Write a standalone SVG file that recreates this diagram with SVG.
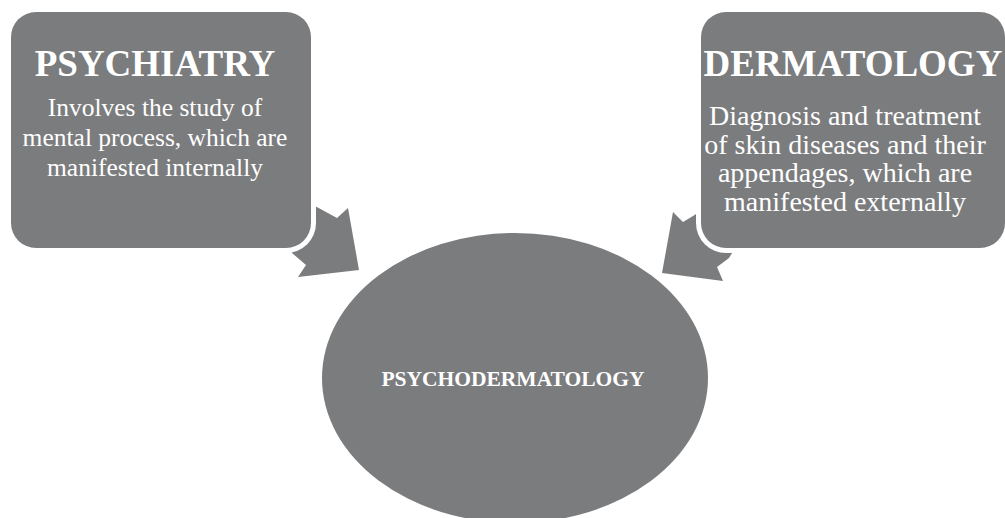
<svg xmlns="http://www.w3.org/2000/svg" width="1005" height="518" viewBox="0 0 1005 518">
<style>
.shape{fill:#7b7c7e}
.halo{fill:#ffffff}
.title{font-family:"Liberation Serif","Times New Roman",serif;font-weight:bold;font-size:37px;fill:#ffffff;text-anchor:middle}
.body{font-family:"Liberation Serif","Times New Roman",serif;fill:#ffffff;text-anchor:middle}
.center{font-family:"Liberation Serif","Times New Roman",serif;font-weight:bold;font-size:21.5px;fill:#ffffff;text-anchor:middle}
</style>
<rect width="1005" height="518" fill="#ffffff"/>
<g id="connectors">
<polygon class="shape" points="315,206 337,218 348,208 359,270 298,277 306,265 292,253 280,235 300,206"/>
<polygon class="shape" points="673,212 683,222 693,216 710,205 740,240 729,258 717,267 723,281 662,273"/>
</g>
<g id="node-psychiatry">
<rect class="halo" x="6" y="7" width="310" height="246" rx="30"/>
<rect class="shape" x="11" y="12" width="300" height="236" rx="25"/>
<text class="title" x="155" y="76">PSYCHIATRY</text>
<text class="body" font-size="25.5"><tspan x="155" y="116">Involves the study of</tspan><tspan x="155" y="146">mental process, which are</tspan><tspan x="155" y="176">manifested internally</tspan></text>
</g>
<g id="node-dermatology">
<rect class="halo" x="696" y="7" width="314" height="246" rx="30"/>
<rect class="shape" x="701" y="12" width="304" height="236" rx="25"/>
<text class="title" x="853" y="76">DERMATOLOGY</text>
<text class="body" font-size="28"><tspan x="845" y="125">Diagnosis and treatment</tspan><tspan x="845" y="154">of skin diseases and their</tspan><tspan x="845" y="182">appendages, which are</tspan><tspan x="845" y="211">manifested externally</tspan></text>
</g>
<g id="node-psychodermatology">
<ellipse class="shape" cx="515" cy="378" rx="193" ry="145"/>
<text class="center" x="513" y="386">PSYCHODERMATOLOGY</text>
</g>
</svg>
